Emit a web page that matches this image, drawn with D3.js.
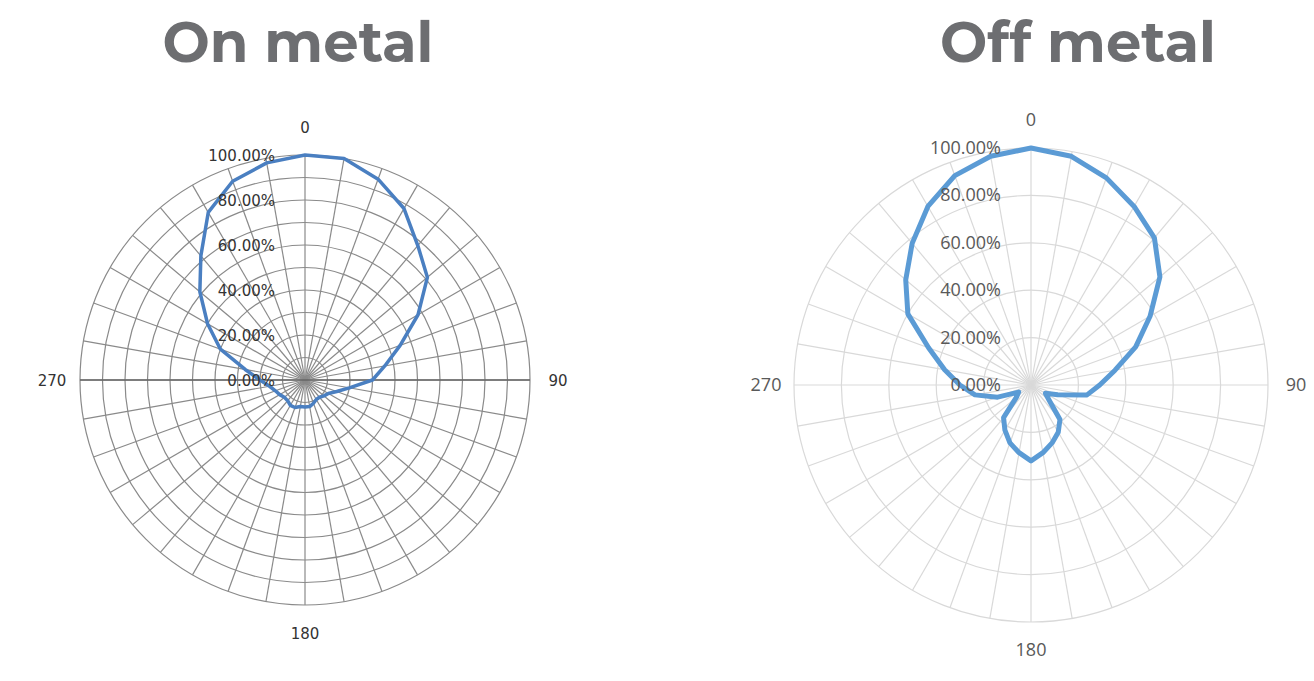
<!DOCTYPE html>
<html><head><meta charset="utf-8">
<script src="https://cdn.jsdelivr.net/npm/d3@7"></script>
<style>body{margin:0;background:#fff}</style></head>
<body><svg id="c" width="1314" height="681"></svg>
<script>
const angles = d3.range(0, 360, 10);
const onMetal = [1.00,1.00,0.95,0.88,0.78,0.71,0.58,0.45,0.36,0.30,0.20,0.15,0.12,0.11,0.10,0.10,0.11,0.12,0.12,0.12,0.13,0.13,0.12,0.12,0.13,0.14,0.16,0.20,0.27,0.40,0.50,0.61,0.72,0.86,0.94,0.98];
const offMetal = [1.00,0.98,0.93,0.87,0.81,0.71,0.58,0.47,0.36,0.29,0.24,0.12,0.07,0.10,0.19,0.23,0.26,0.29,0.32,0.29,0.26,0.22,0.18,0.08,0.06,0.15,0.24,0.30,0.37,0.46,0.60,0.69,0.78,0.87,0.94,0.98];
const radialTicks = [0,0.2,0.4,0.6,0.8,1.0];
const angleLabels = [0,90,180,270];
const titles = ["On metal","Off metal"];

const svg = d3.select("#c");
const charts = [
 {title:titles[0], data:onMetal, cx:305, cy:380, R:225, tx:298, grid:"#8a8a8a", rings:d3.range(0.1,1.01,0.1), line:"#4a7fc1", lw:3.5, text:"#333", fs:15, font:"Tahoma, 'DejaVu Sans', sans-serif", lblOff:[250,28], axisLine:true},
 {title:titles[1], data:offMetal, cx:1031, cy:385, R:237, tx:1078, grid:"#d9d9d9", rings:radialTicks.slice(1), line:"#5b9bd5", lw:5, text:"#595959", fs:18, font:"'Open Sans', sans-serif", lblOff:[265,28], axisLine:false}
];
charts.forEach(c=>{
  svg.append("text").attr("x",c.tx).attr("y",62).attr("text-anchor","middle")
    .attr("font-family","Montserrat, 'Open Sans', sans-serif").attr("font-weight",700)
    .attr("font-size",56).attr("fill","#6d6e71").text(c.title);
  const g = svg.append("g").attr("transform",`translate(${c.cx},${c.cy})`);
  const r = d3.scaleLinear().domain([0,1]).range([0,c.R]);
  const a = d3.scaleLinear().domain([0,360]).range([0,2*Math.PI]);
  c.rings.forEach(v=>g.append("circle").attr("r",r(v)).attr("fill","none").attr("stroke",c.grid).attr("stroke-width",1.2));
  angles.forEach(d=>{
    const t=a(d);
    g.append("line").attr("x1",0).attr("y1",0).attr("x2",r(1)*Math.sin(t)).attr("y2",-r(1)*Math.cos(t))
      .attr("stroke",c.grid).attr("stroke-width",1.2);
  });
  if(c.axisLine) g.append("line").attr("x1",-r(1)).attr("x2",r(1)).attr("stroke","#666").attr("stroke-width",1.5);
  const line = d3.lineRadial().angle((d,i)=>a(angles[i])).radius(d=>r(d)).curve(d3.curveLinearClosed);
  g.append("path").attr("d",line(c.data)).attr("fill","none").attr("stroke",c.line)
    .attr("stroke-width",c.lw).attr("stroke-linejoin","round");
  radialTicks.forEach(v=>g.append("text").attr("x",-30).attr("y",-r(v)+6).attr("text-anchor","end")
    .attr("font-family",c.font).attr("font-size",c.fs).attr("fill",c.text).text((v*100).toFixed(2)+"%"));
  angleLabels.forEach(d=>{
    const t=a(d), rr=r(1)+c.lblOff[1];
    g.append("text").attr("x",rr*Math.sin(t)).attr("y",-rr*Math.cos(t)+6).attr("text-anchor","middle")
     .attr("font-family",c.font).attr("font-size",c.fs).attr("fill",c.text).text(d);
  });
});
</script></body></html>
